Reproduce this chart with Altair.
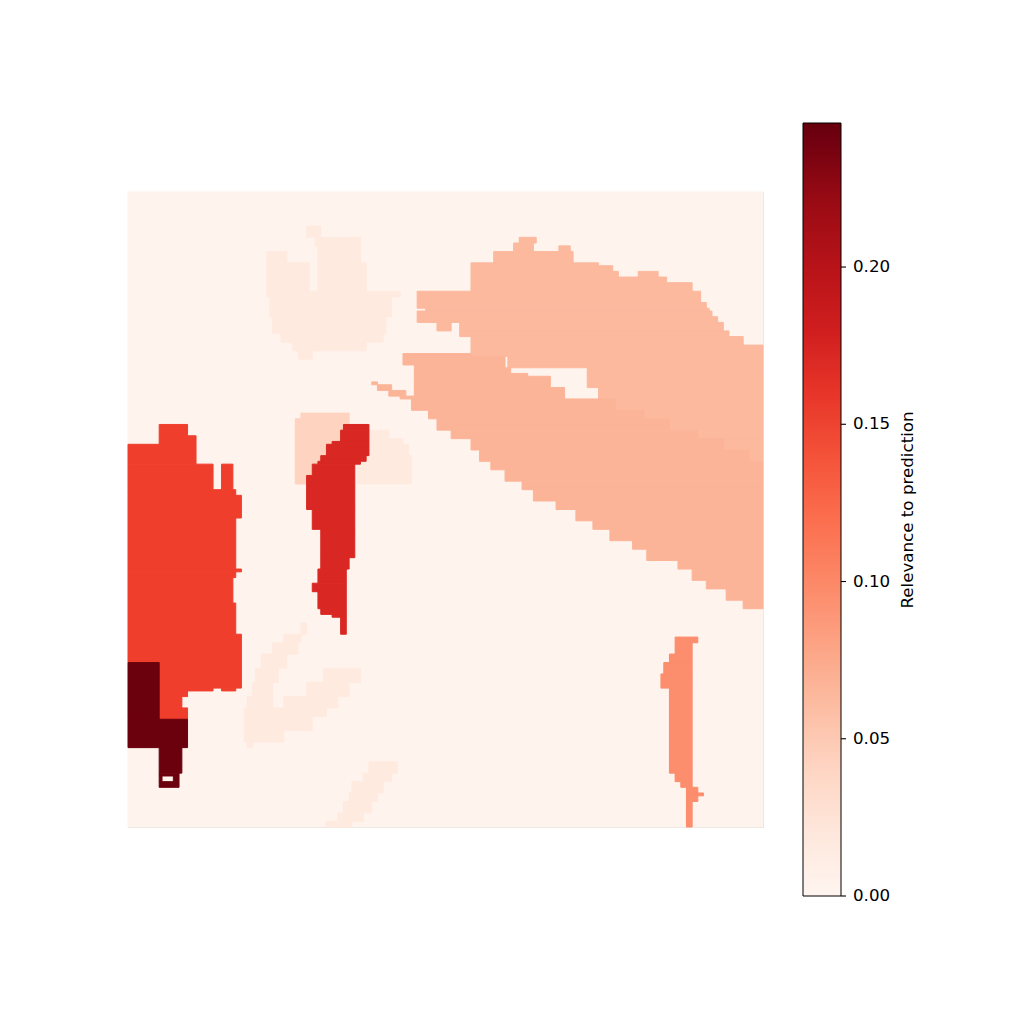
import altair as alt
import pandas as pd

alt.data_transformers.disable_max_rows()

# Image grid is 224 x 224 cells. Runs are [row_start, row_end, col_start, col_end].
VMAX = 0.2458
colorbar_title = "Relevance to prediction"
colorbar_ticks = [0.0, 0.05, 0.10, 0.15, 0.20]

background_value = 0.003
background_runs = [[0, 224, 0, 224]]

faint_value = 0.016
faint_top_runs = [
    [12, 16, 63, 68], [16, 19, 66, 82], [19, 23, 67, 82], [21, 25, 49, 56],
    [23, 25, 67, 82], [25, 35, 49, 64], [25, 35, 67, 84], [35, 37, 49, 96],
    [37, 44, 50, 93], [44, 50, 51, 91], [50, 53, 54, 90], [53, 56, 58, 84],
    [56, 59, 60, 65],
]
faint_mid_runs = [
    [84, 87, 85, 92], [87, 89, 85, 97], [89, 93, 84, 99], [93, 101, 81, 100],
    [101, 103, 81, 100],
]
faint_v_runs = [
    [152, 156, 61, 63], [156, 159, 55, 61], [159, 163, 51, 60], [163, 168, 47, 56],
    [168, 173, 45, 53], [168, 173, 69, 82], [173, 178, 44, 51], [173, 178, 63, 78],
    [178, 182, 42, 51], [178, 182, 55, 74], [182, 185, 41, 70], [185, 190, 41, 65],
    [190, 194, 41, 55], [194, 196, 42, 44],
]
faint_bottom_runs = [
    [201, 205, 85, 95], [205, 208, 83, 93], [208, 212, 79, 90], [212, 215, 78, 88],
    [215, 219, 76, 86], [219, 222, 74, 83], [222, 224, 70, 79],
]

light_square_value = 0.042
light_square_runs = [[78, 80, 61, 78], [80, 103, 59, 78]]

upper_salmon_value = 0.063
upper_salmon_runs = [
    [16, 18, 138, 144], [18, 19, 136, 143], [19, 21, 136, 143], [19, 21, 152, 156],
    [21, 25, 129, 157], [25, 26, 121, 166], [26, 28, 121, 171], [28, 30, 121, 173],
    [28, 30, 180, 187], [30, 32, 121, 190], [32, 35, 121, 199], [35, 39, 102, 202],
    [39, 41, 102, 204], [41, 42, 105, 205], [42, 44, 102, 206], [44, 46, 102, 208],
    [46, 49, 109, 114], [46, 49, 117, 210], [49, 51, 117, 212], [51, 54, 121, 217],
    [54, 58, 121, 224], [58, 62, 134, 224], [62, 65, 162, 224], [65, 69, 162, 224],
    [69, 73, 166, 224], [73, 77, 172, 224], [77, 80, 182, 224], [80, 84, 191, 224],
    [84, 87, 201, 224], [87, 91, 210, 224], [91, 95, 219, 224],
]

lower_salmon_value = 0.067
lower_salmon_runs = [
    [57, 58, 97, 121], [58, 61, 97, 133], [61, 62, 101, 133], [62, 64, 101, 135],
    [64, 65, 101, 141], [65, 69, 101, 149], [69, 73, 101, 154],
    [67, 68, 86, 88], [68, 70, 88, 93], [70, 72, 92, 98], [72, 73, 96, 101],
    [73, 77, 100, 172], [77, 80, 106, 182], [80, 84, 109, 191], [84, 87, 114, 201],
    [87, 91, 121, 210], [91, 95, 124, 219], [95, 98, 128, 224], [98, 102, 133, 224],
    [102, 105, 139, 224], [105, 109, 143, 224], [109, 112, 151, 224], [112, 116, 158, 224],
    [116, 119, 164, 224], [119, 123, 170, 224], [123, 126, 178, 224], [126, 130, 183, 224],
    [130, 133, 194, 224], [133, 137, 199, 224], [137, 140, 204, 224], [140, 144, 211, 224],
    [144, 147, 217, 224],
]

right_strip_value = 0.096
right_strip_runs = [
    [157, 159, 193, 201], [159, 163, 193, 199], [163, 166, 191, 199], [166, 170, 189, 199],
    [170, 175, 188, 199], [175, 205, 191, 199], [205, 208, 193, 199], [208, 210, 195, 199],
    [210, 212, 197, 201], [212, 213, 197, 203], [213, 215, 197, 201], [215, 224, 197, 199],
]

big_red_value = 0.152
big_red_runs = [
    [82, 86, 11, 21], [86, 89, 11, 24], [89, 96, 0, 24], [96, 105, 0, 30], [96, 105, 33, 37],
    [105, 107, 0, 38], [107, 115, 0, 40], [115, 133, 0, 38], [133, 134, 0, 40],
    [134, 136, 0, 38], [136, 145, 0, 37], [145, 156, 0, 38], [156, 166, 0, 40],
    [166, 175, 11, 40], [175, 176, 11, 30], [175, 176, 33, 38], [176, 178, 11, 21],
    [178, 182, 11, 19], [182, 186, 11, 21],
]

mid_strip_value = 0.172
mid_strip_runs = [
    [82, 84, 76, 85], [84, 88, 75, 85], [88, 89, 72, 85], [89, 93, 70, 85], [93, 95, 68, 84],
    [95, 96, 67, 82], [96, 100, 65, 80], [100, 112, 63, 80], [112, 119, 65, 80],
    [119, 129, 68, 80], [129, 133, 68, 78], [133, 138, 67, 77], [138, 141, 65, 77],
    [141, 147, 67, 77], [147, 149, 68, 77], [149, 150, 72, 77], [150, 156, 75, 77],
]

dark_value = 0.243
dark_runs = [
    [166, 186, 0, 11], [186, 196, 0, 21], [196, 205, 11, 19], [205, 206, 11, 18],
    [206, 208, 11, 12], [206, 208, 16, 18], [208, 210, 11, 18],
]

segments = [
    (background_value, background_runs),
    (faint_value, faint_top_runs),
    (faint_value, faint_mid_runs),
    (faint_value, faint_v_runs),
    (faint_value, faint_bottom_runs),
    (light_square_value, light_square_runs),
    (upper_salmon_value, upper_salmon_runs),
    (lower_salmon_value, lower_salmon_runs),
    (right_strip_value, right_strip_runs),
    (big_red_value, big_red_runs),
    (mid_strip_value, mid_strip_runs),
    (dark_value, dark_runs),
]

rows = []
order = 0
for value, runs in segments:
    for r0, r1, c0, c1 in runs:
        rows.append({"r0": r0, "r1": r1, "c0": c0, "c1": c1,
                     "value": value, "order": order})
        order += 1
df = pd.DataFrame(rows)

reds = ["#fff5f0", "#fee0d2", "#fcbba1", "#fc9272", "#fb6a4a",
        "#ef3b2c", "#cb181d", "#a50f15", "#67000d"]
domain = [VMAX * i / 8 for i in range(9)]

FONT = "DejaVu Sans"
FS = 16.7

heat = alt.Chart(df).mark_rect(
    strokeWidth=1, stroke=alt.expr("scale('color', datum.value)")
).encode(
    x=alt.X("c0:Q", scale=alt.Scale(domain=[0, 224], nice=False, zero=False), axis=None),
    x2="c1:Q",
    y=alt.Y("r0:Q", scale=alt.Scale(domain=[0, 224], nice=False, zero=False, reverse=True), axis=None),
    y2="r1:Q",
    color=alt.Color(
        "value:Q",
        scale=alt.Scale(type="linear", domain=domain, range=reds, clamp=True),
        legend=alt.Legend(
            type="gradient",
            orient="none", legendX=675, legendY=-69, direction="vertical",
            gradientLength=773, gradientThickness=38,
            gradientStrokeColor="black", gradientStrokeWidth=1,
            values=colorbar_ticks, labelExpr="''", labelOpacity=0,
            title=None, padding=0,
        ),
    ),
    order=alt.Order("order:Q"),
)

tick_df = pd.DataFrame({"tick": colorbar_ticks})
tick_scale = alt.Scale(domain=[0, VMAX], range=[704, -69])

ticks = alt.Chart(tick_df).mark_rule(color="black", strokeWidth=1.1).encode(
    y=alt.Y("tick:Q", scale=tick_scale, axis=None),
    x=alt.value(713), x2=alt.value(718),
)

tick_labels = alt.Chart(tick_df).mark_text(
    font=FONT, fontSize=FS, color="black", align="left", baseline="middle",
).encode(
    y=alt.Y("tick:Q", scale=tick_scale, axis=None),
    x=alt.value(725),
    text=alt.Text("tick:Q", format=".2f"),
)

title_text = alt.Chart(pd.DataFrame({"t": [colorbar_title]})).mark_text(
    angle=270, font=FONT, fontSize=FS, color="black",
    align="center", baseline="middle",
).encode(text="t:N", x=alt.value(780), y=alt.value(318))

chart = alt.layer(heat, ticks, tick_labels, title_text).resolve_scale(y="independent").properties(
    width=635, height=635,
    autosize=alt.AutoSizeParams(type="none"),
    padding={"left": 128, "top": 192, "right": 261, "bottom": 197},
).configure_view(stroke=None).configure(background="white")

chart.save("out.html", embed_options={"renderer": "svg", "actions": False})
